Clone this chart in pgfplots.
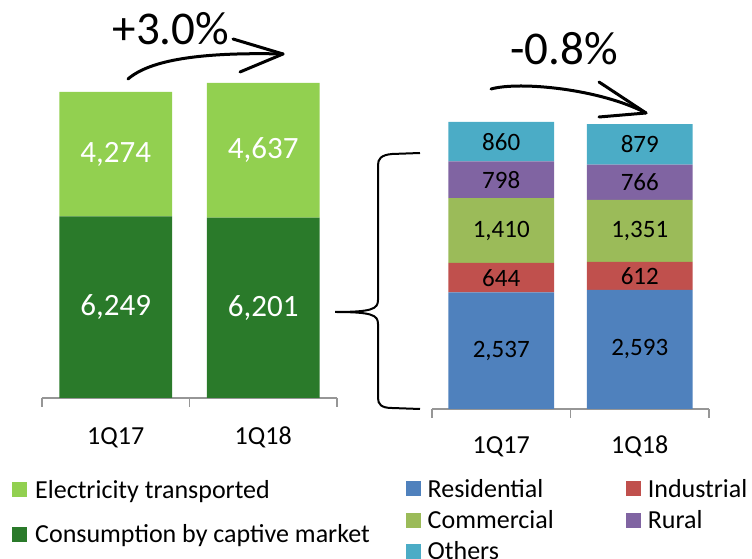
\documentclass[border=0pt]{standalone}
\usepackage{pgfplots}
\usepackage{pgfplotstable}
\pgfplotsset{compat=1.18}
\usepackage{fontspec}
\setmainfont{Carlito}
\definecolor{lgreen}{RGB}{146,208,80}
\definecolor{dgreen}{RGB}{42,122,42}
\definecolor{cres}{RGB}{79,129,189}
\definecolor{cind}{RGB}{192,80,77}
\definecolor{ccom}{RGB}{155,187,89}
\definecolor{crur}{RGB}{128,100,162}
\definecolor{coth}{RGB}{75,172,198}
\definecolor{axgray}{RGB}{150,150,150}

\pgfplotstableread{
x captive transported
0 6249 4274
1 6201 4637
}\lefttab
\pgfplotstableread{
x res ind com rur oth
0 2537 644 1410 798 860
1 2593 612 1351 766 879
}\righttab

\pgfplotsset{
  barbase/.style={
    scale only axis,
    ybar stacked,
    xmin=-0.5, xmax=1.5, ymin=0,
    bar width=0.765,
    axis x line*=bottom,
    axis y line=none,
    xtick={0,1},
    xticklabels={1Q17,1Q18},
    major tick length=0pt,
    minor xtick={-0.5,0.5,1.5},
    minor tick length=9pt,
    tick align=outside,
    x axis line style={axgray, line width=1.3pt},
    minor tick style={axgray, line width=1.3pt},
    ytick=\empty,
    xticklabel style={font=\fontsize{26}{30}\selectfont, anchor=base},
    clip=false,
    legend cell align=left,
    legend image code/.code={\fill[##1] (0pt,-7.5pt) rectangle (15pt,7.5pt);},
  },
}

\begin{document}
\begin{tikzpicture}[x=1pt,y=1pt]

\begin{axis}[barbase, at={(42pt,161pt)}, anchor=south west, width=295pt, height=349pt, ymax=12000,
  xticklabel style={yshift=-47pt},
  nodes near coords={\pgfmathprintnumber[assume math mode=true]{\rawv}},
  every node near coord/.append style={font=\fontsize{31}{36}\selectfont, text=white, anchor=center},
  reverse legend,
  legend style={at={(axis description cs:-0.1017,-0.2292)}, anchor=north west, draw=none, fill=none, inner sep=0pt, font=\fontsize{26}{30}\selectfont, row sep=21pt, column sep=6pt},
]
\addplot[fill=dgreen, draw=none, visualization depends on={\thisrow{captive}\as\rawv}] table[x=x, y=captive] {\lefttab};
\addplot[fill=lgreen, draw=none, visualization depends on={\thisrow{transported}\as\rawv}] table[x=x, y=transported] {\lefttab};
\legend{Consumption by captive market, Electricity transported}
\end{axis}

\begin{axis}[barbase, at={(432pt,150pt)}, anchor=south west, width=277pt, height=321.5pt, ymax=7000,
  xticklabel style={yshift=-45pt},
  nodes near coords={\pgfmathprintnumber[assume math mode=true]{\rawv}},
  every node near coord/.append style={font=\fontsize{25}{30}\selectfont, text=black, anchor=center},
  legend columns=2,
  legend style={at={(axis description cs:-0.0939,-0.2115)}, anchor=north west, draw=none, fill=none, inner sep=0pt, font=\fontsize{26}{30}\selectfont, row sep=7.5pt, column sep=4.5pt, /tikz/column 2/.style={column sep=70.5pt}},
]
\addplot[fill=cres, draw=none, visualization depends on={\thisrow{res}\as\rawv}] table[x=x, y=res] {\righttab};
\addplot[fill=cind, draw=none, visualization depends on={\thisrow{ind}\as\rawv}] table[x=x, y=ind] {\righttab};
\addplot[fill=ccom, draw=none, visualization depends on={\thisrow{com}\as\rawv}] table[x=x, y=com] {\righttab};
\addplot[fill=crur, draw=none, visualization depends on={\thisrow{rur}\as\rawv}] table[x=x, y=rur] {\righttab};
\addplot[fill=coth, draw=none, visualization depends on={\thisrow{oth}\as\rawv}] table[x=x, y=oth] {\righttab};
\legend{Residential, Industrial, Commercial, Rural, Others}
\end{axis}

% annotations
\node[anchor=base, font=\fontsize{47}{56}\selectfont, inner sep=0pt] at (171,514) {+3.0\%};
\node[anchor=base, font=\fontsize{47}{56}\selectfont, inner sep=0pt] at (564,494) {-0.8\%};
\draw[line width=3pt, line cap=round, line join=round] (128,480) .. controls (150,499) and (200,507) .. (283,505);
\draw[line width=3pt, line cap=round, line join=round] (233,520) -- (283,505) -- (240,487);
\draw[line width=3pt, line cap=round, line join=round] (491,470) .. controls (520,478) and (600,470) .. (646,446);
\draw[line width=3pt, line cap=round, line join=round] (599,477) -- (646,446) -- (599,442);
\draw[line width=2pt] (420,406) -- (392,405) .. controls (381,404) and (378,400) .. (378,394) -- (378,259) .. controls (378,250) and (372,247) .. (335,247) .. controls (372,247) and (378,244) .. (378,235) -- (378,161) .. controls (378,155) and (381,151) .. (392,151) -- (420,150);
\pgfresetboundingbox
\useasboundingbox (0,0) rectangle (752,559);
\end{tikzpicture}
\end{document}
